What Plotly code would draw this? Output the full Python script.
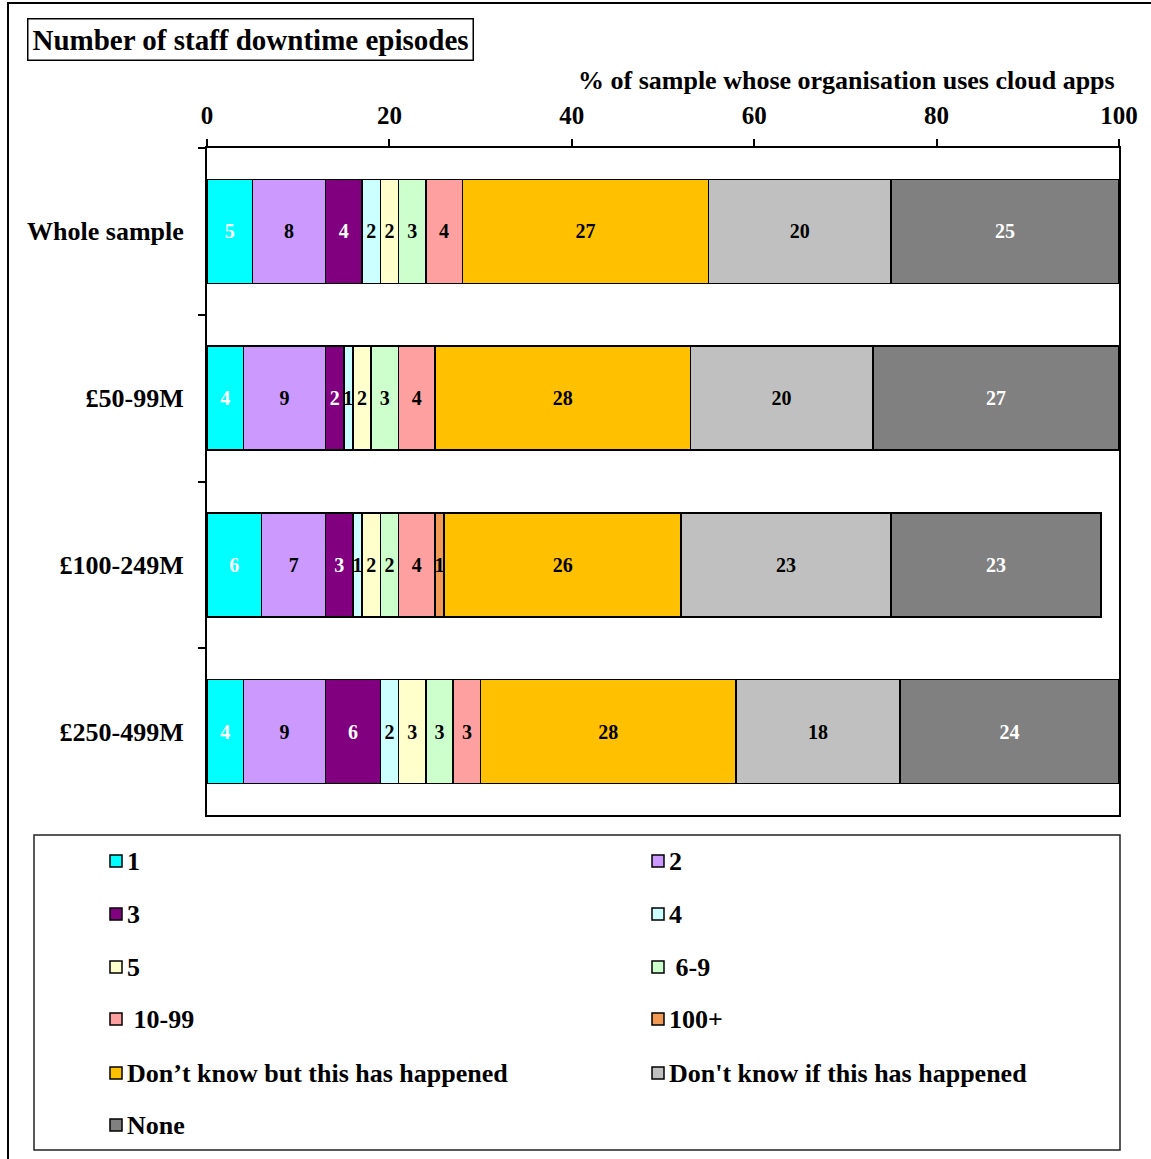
import plotly.graph_objects as go

# Survey groups (top to bottom)
groups = ["Whole sample", "£50-99M", "£100-249M", "£250-499M"]

# Response categories: number of staff downtime episodes
episodes = ["1", "2", "3", "4", "5", " 6-9", " 10-99", "100+",
            "Don’t know but this has happened",
            "Don't know if this has happened", "None"]

# % of each group per category (rows follow `episodes`, columns follow `groups`)
pct_1 = [5, 4, 6, 4]
pct_2 = [8, 9, 7, 9]
pct_3 = [4, 2, 3, 6]
pct_4 = [2, 1, 1, 2]
pct_5 = [2, 2, 2, 3]
pct_6_9 = [3, 3, 2, 3]
pct_10_99 = [4, 4, 4, 3]
pct_100_plus = [0, 0, 1, 0]
pct_dk_happened = [27, 28, 26, 28]
pct_dk_if = [20, 20, 23, 18]
pct_none = [25, 27, 23, 24]

series = [pct_1, pct_2, pct_3, pct_4, pct_5, pct_6_9, pct_10_99,
          pct_100_plus, pct_dk_happened, pct_dk_if, pct_none]

colors = ["#00FFFF", "#CC99FF", "#800080", "#CCFFFF", "#FFFFCC", "#CCFFCC",
          "#FFA0A0", "#F09A55", "#FFC000", "#C0C0C0", "#808080"]
text_colors = ["white", "black", "white", "black", "black", "black",
               "black", "black", "black", "black", "white"]

W, H = 1151, 1159
L, R, T, B = 207, 32, 148, 344
PW, PH = W - L - R, H - T - B

FONT = "Liberation Serif, Times New Roman, serif"


def px_x(x):
    return (x - L) / PW


def px_y(y):
    return (H - B - y) / PH


fig = go.Figure()
for name, vals, col, tcol in zip(episodes, series, colors, text_colors):
    fig.add_trace(go.Bar(
        name=name,
        y=groups,
        x=vals,
        orientation="h",
        marker=dict(color=col, line=dict(color="black", width=1.5)),
        text=[str(v) if v else "" for v in vals],
        textposition="inside",
        insidetextanchor="middle",
        textangle=0,
        constraintext="none",
        textfont=dict(family=FONT, size=20, color=tcol, weight="bold"),
        showlegend=False,
        hoverinfo="skip",
    ))

fig.update_layout(
    width=W, height=H,
    margin=dict(l=L, r=R, t=T, b=B, pad=0),
    barmode="stack",
    bargap=0.376,
    paper_bgcolor="white",
    plot_bgcolor="white",
    font=dict(family=FONT, color="black"),
)

fig.update_xaxes(
    side="top", range=[0, 100], tickvals=[0, 20, 40, 60, 80, 100],
    showgrid=False, zeroline=False,
    showline=True, linecolor="black", linewidth=2, mirror=True,
    ticks="outside", ticklen=7, tickwidth=1.5, tickcolor="black",
    tickfont=dict(family=FONT, size=25, weight="bold"),
    ticklabelstandoff=5,
)
fig.update_yaxes(
    type="category", categoryorder="array", categoryarray=groups,
    autorange="reversed",
    showgrid=False, zeroline=False,
    showline=True, linecolor="black", linewidth=2, mirror=True,
    ticks="outside", ticklen=7, tickwidth=1.5, tickcolor="black",
    tickson="boundaries",
    tickfont=dict(family=FONT, size=26, weight="bold"),
    ticklabelstandoff=16,
)

shapes = []
annotations = []

# Outer chart frame
shapes.append(dict(type="rect", xref="paper", yref="paper",
                   x0=px_x(8), x1=px_x(1170), y0=px_y(1175), y1=px_y(3),
                   line=dict(color="black", width=2), layer="below"))

# Chart title in a box
annotations.append(dict(
    xref="paper", yref="paper", x=px_x(250), y=px_y(39),
    xanchor="center", yanchor="middle", showarrow=False,
    text="Number of staff downtime episodes",
    font=dict(family=FONT, size=29, weight="bold", color="black"),
    bordercolor="black", borderwidth=1.5, borderpad=4, bgcolor="white",
))

# Axis title
annotations.append(dict(
    xref="paper", yref="paper", x=px_x(1117), y=px_y(81),
    xanchor="right", yanchor="middle", showarrow=False,
    text="% of sample whose organisation uses cloud apps",
    font=dict(family=FONT, size=26, weight="bold", color="black"),
))

# Legend box
shapes.append(dict(type="rect", xref="paper", yref="paper",
                   x0=px_x(34), x1=px_x(1120), y0=px_y(1150), y1=px_y(835),
                   line=dict(color="#222222", width=1.5)))

col_x = [110, 652]
row_y = [861, 914, 967, 1019, 1073, 1125]
for i, (name, col) in enumerate(zip(episodes, colors)):
    cx = col_x[i % 2]
    cy = row_y[i // 2]
    shapes.append(dict(type="rect", xref="paper", yref="paper",
                       x0=px_x(cx), x1=px_x(cx + 12),
                       y0=px_y(cy + 6), y1=px_y(cy - 6),
                       fillcolor=col, line=dict(color="black", width=1.5)))
    annotations.append(dict(
        xref="paper", yref="paper", x=px_x(cx + 15), y=px_y(cy),
        xanchor="left", yanchor="middle", showarrow=False,
        text=name.replace(" ", "&nbsp;", 1) if name.startswith(" ") else name,
        font=dict(family=FONT, size=26, weight="bold", color="black"),
    ))

fig.update_layout(shapes=shapes, annotations=annotations)

fig.write_html("out.html")
